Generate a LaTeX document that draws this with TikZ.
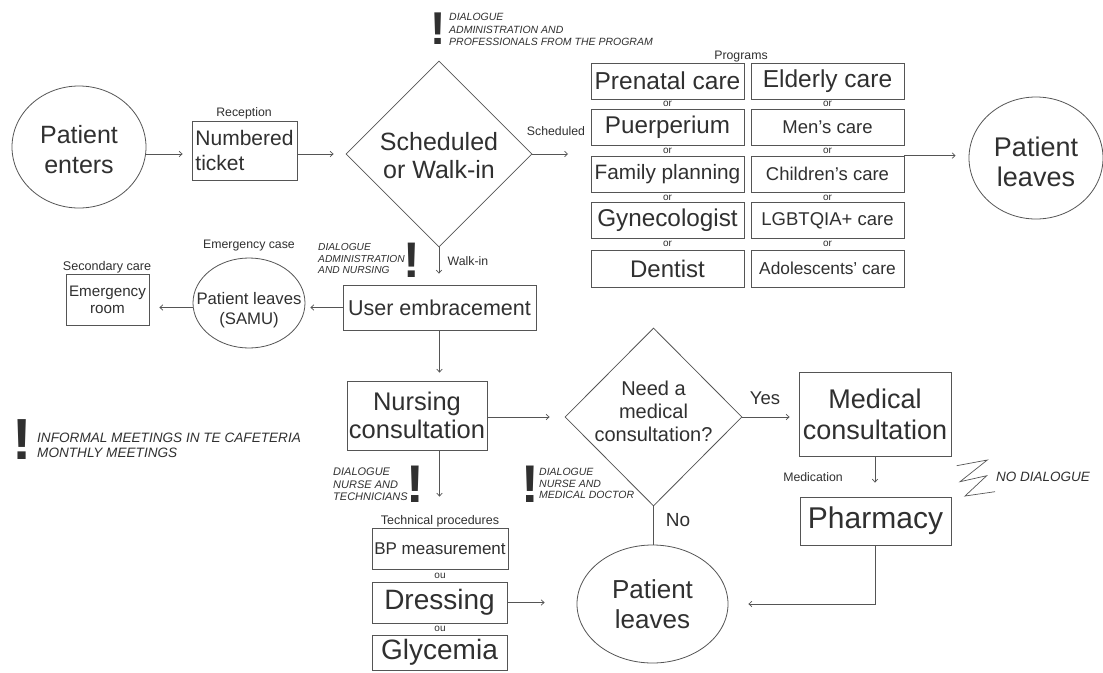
\documentclass[tikz,border=0pt]{standalone}
\usepackage{fontspec}
\setmainfont{Liberation Sans}
\usetikzlibrary{shapes.geometric,arrows.meta}
\definecolor{ln}{HTML}{555555}
\definecolor{tx}{HTML}{303030}
\newcommand{\myfs}[2]{\fontsize{#1}{#2}\selectfont}
\begin{document}
\begin{tikzpicture}[x=1pt,y=-1pt,
  bx/.style={draw=ln, line width=0.8pt, inner sep=0pt, align=center, text=tx},
  ell/.style={ellipse, draw=ln, line width=0.8pt, inner sep=0pt},
  dia/.style={diamond, draw=ln, line width=0.8pt, inner sep=0pt},
  lbl/.style={text=tx, inner sep=0pt, align=center},
  arr/.style={draw=ln, line width=0.7pt, -{Straight Barb[length=3pt,width=5.5pt]}},
  plain/.style={draw=ln, line width=0.7pt},
  note/.style={text=tx, inner sep=0pt, align=left, anchor=west},
  bang/.style={text=tx, inner sep=0pt},
  prog/.style={bx, minimum width=153pt, minimum height=36pt},
  orlbl/.style={lbl, font=\myfs{10}{12}},
  small/.style={lbl, font=\myfs{12.3}{14}},
]
\fill[white] (0,0) rectangle (1103,672);
\useasboundingbox (0,0) rectangle (1103,672);

% Patient enters
\node[ell, minimum width=134pt, minimum height=122pt] (pe) at (79,147) {};
\node[lbl, font=\myfs{25}{30}] (pet) at (79,150) {Patient\\enters};

% Reception
\node[small] (rec) at (244,113) {Reception};
\node[bx, minimum width=105pt, minimum height=59pt, align=left, font=\myfs{21}{25}] (tk) at (244.5,150.5) {Numbered\\ticket};

% Decision 1
\node[dia, minimum width=186pt, minimum height=186pt] (d1) at (439,154) {};
\node[lbl, font=\myfs{25}{28}] (d1t) at (439,156) {Scheduled\\or Walk-in};
\coordinate (sc) at (568,154);
\node[small] (sclbl) at (556,131) {Scheduled};

\draw[arr, shorten >=9pt] (pe.east |- d1) -- (tk.west |- d1);
\draw[arr, shorten >=12pt] (tk.east |- d1) -- (d1.west);
\draw[arr] (d1.east) -- (sc);

% top annotation
\node[bang, font=\myfs{46}{46}\bfseries] (b1) at (438,28.5) {!};
\node[note, font=\myfs{10.5}{12.5}\itshape] (n1) at (449,29.5) {DIALOGUE\\ADMINISTRATION AND\\PROFESSIONALS FROM THE PROGRAM};

% Programs
\node[small] (prg) at (741,57) {Programs};
\node[prog, font=\myfs{24.5}{28}] (p1) at (667.5,81) {Prenatal care};
\node[prog, font=\myfs{24.2}{28}] (p2) at (667.5,127) {Puerperium};
\node[prog, font=\myfs{20.8}{24}] (p3) at (667.5,174) {Family planning};
\node[prog, font=\myfs{24.3}{28}] (p4) at (667.5,220.5) {Gynecologist};
\node[prog, font=\myfs{24}{28}, minimum height=37pt] (p5) at (667.5,268.5) {Dentist};
\node[prog, font=\myfs{24.5}{28}] (q1) at (827.5,81) {Elderly care};
\node[prog, font=\myfs{18.5}{22}] (q2) at (827.5,127) {Men’s care};
\node[prog, font=\myfs{18.5}{22}] (q3) at (827.5,174) {Children’s care};
\node[prog, font=\myfs{18.5}{22}] (q4) at (827.5,220.5) {LGBTQIA+ care};
\node[prog, font=\myfs{17.3}{21}, minimum height=37pt] (q5) at (827.5,268.5) {Adolescents’ care};
\foreach \y [count=\i] in {104,150.5,197.5,244} {
  \node[orlbl] (ol\i) at (667.5,\y) {or};
  \node[orlbl] (or\i) at (827.5,\y) {or};
}

% Patient leaves (top right)
\node[ell, minimum width=134pt, minimum height=122pt] (pl) at (1036,158) {};
\node[lbl, font=\myfs{27}{30}] (plt) at (1036,162) {Patient\\leaves};
\draw[arr, shorten >=13pt] (q3.north east) -- (q3.north east -| pl.west);

% Walk-in
\node[bx, minimum width=193pt, minimum height=45pt, font=\myfs{21.5}{25}] (ue) at (439.5,307.5) {User embracement};
\draw[arr, shorten >=11pt] (d1.south) -- (d1.south |- ue.north);
\node[small] (wl) at (468,261) {Walk-in};
\node[bang, font=\myfs{50}{50}\bfseries] (b2) at (412,260) {!};
\node[note, font=\myfs{10.2}{11.5}\itshape] (n2) at (318,258.5) {DIALOGUE\\ADMINISTRATION\\AND NURSING};

% Emergency
\node[ell, minimum width=112pt, minimum height=90pt] (sa) at (249,303) {};
\node[lbl, font=\myfs{16.7}{20}] (sat) at (249,310) {Patient leaves\\(SAMU)};
\node[small] (ec) at (249,246) {Emergency case};
\node[bx, minimum width=83pt, minimum height=51pt, font=\myfs{15.2}{17}] (er) at (107.5,299.5) {Emergency\\room};
\node[lbl, font=\myfs{12.6}{14}] (scc) at (107,267) {Secondary care};
\draw[arr, shorten >=5pt] (ue.west) -- (ue.west -| sa.east);
\draw[arr, shorten >=10pt] (sa.west |- ue) -- (er.east |- ue);

% Nursing
\node[bx, minimum width=140pt, minimum height=69pt, font=\myfs{25.5}{28}] (nu) at (417,415.5) {Nursing\\consultation};
\draw[arr, shorten >=8pt] (ue.south) -- (ue.south |- nu.north);

% Decision 2
\node[dia, minimum width=177pt, minimum height=178pt] (d2) at (653.5,417) {};
\node[lbl, font=\myfs{20}{23}] (d2t) at (653.5,411) {Need a\\medical\\consultation?};
\draw[arr, shorten >=15pt] (nu.east |- d2) -- (d2.west);

% Medical
\node[bx, minimum width=152pt, minimum height=84pt, font=\myfs{27}{31}] (md) at (875,414) {Medical\\consultation};
\draw[arr, shorten >=9pt] (d2.east) -- (d2.east -| md.west);
\node[lbl, font=\myfs{18.5}{21}] (yes) at (765,398) {Yes};
\node[bx, minimum width=151pt, minimum height=48pt, font=\myfs{30}{32}] (ph) at (875.5,521) {Pharmacy};
\draw[arr, shorten >=14pt] (md.south) -- (md.south |- ph.north);
\node[small] (medc) at (813,477) {Medication};

% No dialogue
\draw[plain] (956.7,465.7) -- (987.3,460) -- (960,481.7) -- (986.7,475.7) -- (965,496) -- (995,491.7);
\node[note, font=\myfs{13.5}{15}\itshape] (nd) at (996,477) {NO DIALOGUE};

% Patient leaves bottom
\node[ell, minimum width=151pt, minimum height=118pt] (pl2) at (652.5,604) {};
\node[lbl, font=\myfs{26}{30}] (pl2t) at (652.5,604) {Patient\\leaves};
\draw[plain] (d2.south) -- (d2.south |- pl2.north);
\node[lbl, font=\myfs{19}{21}] (no) at (678,520) {No};
\draw[arr, shorten >=20pt] (ph.south) -- (ph.south |- pl2) -- (pl2.east);

% Technical procedures
\node[lbl, font=\myfs{12.5}{14}] (tp) at (440,521) {Technical procedures};
\node[bx, minimum width=136pt, minimum height=41pt, font=\myfs{17}{20}] (bp) at (440,548.5) {BP measurement};
\node[orlbl] (ou1) at (440,575.5) {ou};
\node[bx, minimum width=135pt, minimum height=41pt, font=\myfs{28}{30}] (dr) at (439.5,602.5) {Dressing};
\node[orlbl] (ou2) at (440,629) {ou};
\node[bx, minimum width=135pt, minimum height=35pt, font=\myfs{28}{30}] (gl) at (439.5,652.5) {Glycemia};
\draw[arr, shorten >=31pt] (ue.south |- nu.south) -- (ue.south |- bp.north);
\draw[arr, shorten >=32pt] (dr.east) -- (dr.east -| pl2.west);

% Dialogue annotations
\node[bang, font=\myfs{53}{53}\bfseries] (b3) at (415,484) {!};
\node[note, font=\myfs{11}{12.5}\itshape] (n3) at (333,484.5) {DIALOGUE\\NURSE AND\\TECHNICIANS};
\node[bang, font=\myfs{53}{53}\bfseries] (b4) at (530,484) {!};
\node[note, font=\myfs{10.5}{11.7}\itshape] (n4) at (539,483.5) {DIALOGUE\\NURSE AND\\MEDICAL DOCTOR};

% Informal
\node[bang, font=\myfs{58}{58}\bfseries] (b5) at (22,440) {!};
\node[note, font=\myfs{13.6}{15}\itshape] (n5) at (37,445) {INFORMAL MEETINGS IN TE CAFETERIA\\MONTHLY MEETINGS};
\end{tikzpicture}
\end{document}
